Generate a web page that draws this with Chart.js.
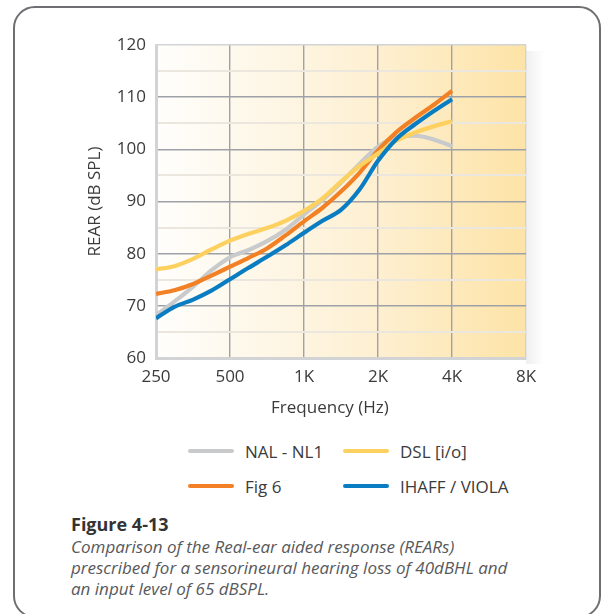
<!DOCTYPE html>
<html>
<head>
<meta charset="utf-8">
<script src="https://cdn.jsdelivr.net/npm/chart.js@4"></script>
<style>
  body { margin: 0; background: #fff; font-family: "Open Sans", sans-serif; }
  #panel {
    position: absolute; left: 13px; top: 6px; width: 584px; height: 608px;
    border: 2.5px solid #6e6f72; border-radius: 22px; background: #fff;
  }
  #chart { position: absolute; left: 0; top: 0; }
  .legend-item { position: absolute; display: flex; align-items: center; font-size: 17px; color: #3b3b3b; white-space: nowrap; }
  .legend-item i { display: inline-block; width: 46px; height: 4px; border-radius: 2px; margin-right: 11px; }
  #caption { position: absolute; left: 71px; top: 512px; color: #58595b; }
  #caption b { display: block; font-size: 18px; color: #333; margin-bottom: 0; }
  #caption p { margin: 0; font-style: italic; font-size: 17px; line-height: 21px; }
</style>
</head>
<body>
<div id="panel"></div>
<canvas id="chart" width="605" height="430"></canvas>
<div id="legend"></div>
<div id="caption">
  <b>Figure 4-13</b>
  <p>Comparison of the Real-ear aided response (REARs)<br>prescribed for a sensorineural hearing loss of 40dBHL and<br>an input level of 65 dBSPL.</p>
</div>
<script>
// quarter-octave points from 250 Hz to 4 kHz
const freqs = [250, 297, 354, 420, 500, 595, 707, 841, 1000, 1189, 1414, 1682, 2000, 2378, 2828, 3364, 4000];
const nalNl1 = [68.2, 70.8, 73.7, 76.8, 79.3, 80.7, 82.4, 84.6, 87.5, 90.3, 93.6, 97.2, 100.5, 102.3, 102.6, 101.9, 100.6];
const dslIo = [77.0, 77.6, 79.0, 80.8, 82.5, 83.8, 84.9, 86.3, 88.2, 90.6, 93.8, 96.8, 99.2, 101.7, 103.2, 104.4, 105.4];
const fig6 = [72.3, 73.0, 74.2, 75.8, 77.5, 79.2, 81.0, 83.5, 86.2, 88.8, 91.9, 95.5, 99.8, 103.3, 106.0, 108.5, 111.2];
const ihaff = [67.6, 69.8, 71.2, 72.9, 75.1, 77.3, 79.4, 81.6, 84.0, 86.3, 88.4, 92.3, 97.8, 102.0, 104.8, 107.3, 109.6];

const freqTicks = [250, 500, 1000, 2000, 4000, 8000];
const yMin = 60, yMax = 120;

const series = [
  { label: 'NAL - NL1', values: nalNl1, color: '#c9cacc', order: 4 },
  { label: 'DSL [i/o]', values: dslIo, color: '#fdd15f', order: 2 },
  { label: 'Fig 6', values: fig6, color: '#f28024', order: 3 },
  { label: 'IHAFF / VIOLA', values: ihaff, color: '#0a7dc2', order: 1 }
];

const gridMajor = '#9ea2a8';
const gridMinor = '#ebe7df';
const frameColor = '#d2d3d5';
const textColor = '#3b3b3b';
const axisFont = { family: 'Open Sans', size: 17 };

const plotBg = {
  id: 'plotBg',
  beforeDraw(chart) {
    const { ctx, chartArea: a } = chart;
    ctx.save();
    // faint shadow to the right of the plot
    const sh = ctx.createLinearGradient(a.right, 0, a.right + 18, 0);
    sh.addColorStop(0, 'rgba(120,125,135,0.12)');
    sh.addColorStop(1, 'rgba(120,125,135,0)');
    ctx.fillStyle = sh;
    ctx.fillRect(a.right, a.top + 6, 18, a.bottom - a.top);
    const g = ctx.createLinearGradient(a.left, 0, a.right, 0);
    g.addColorStop(0, '#fffefc');
    g.addColorStop(0.3, '#fef7e7');
    g.addColorStop(0.6, '#fdefd1');
    g.addColorStop(1, '#fde3a6');
    ctx.fillStyle = g;
    ctx.fillRect(a.left, a.top, a.right - a.left, a.bottom - a.top);
    ctx.restore();
  },
  afterDraw(chart) {
    // x axis title sits a little left of centre in the printed figure
    const { ctx, chartArea: a } = chart;
    ctx.save();
    ctx.fillStyle = textColor;
    ctx.font = '17px "Open Sans"';
    ctx.textAlign = 'center';
    ctx.textBaseline = 'middle';
    ctx.fillText('Frequency (Hz)', a.left + (a.right - a.left) * 0.47, 408);
    ctx.restore();
  }
};

const chart = new Chart(document.getElementById('chart'), {
  type: 'line',
  data: {
    datasets: series.map(s => ({
      label: s.label,
      data: freqs.map((f, i) => ({ x: f, y: s.values[i] })),
      borderColor: s.color,
      backgroundColor: s.color,
      borderWidth: 4.2,
      pointRadius: 0,
      cubicInterpolationMode: 'monotone',
      order: s.order
    }))
  },
  options: {
    responsive: false,
    animation: false,
    layout: { padding: { left: 80, right: 79, top: 45, bottom: 0 } },
    plugins: { legend: { display: false }, tooltip: { enabled: false } },
    scales: {
      x: {
        type: 'logarithmic',
        min: 250,
        max: 8000,
        afterBuildTicks: scale => { scale.ticks = freqTicks.map(v => ({ value: v })); },
        afterFit: scale => { scale.height = 72; },
        ticks: {
          color: textColor,
          font: axisFont,
          padding: 9,
          maxRotation: 0,
          autoSkip: false,
          callback: v => v >= 1000 ? (v / 1000) + 'K' : String(v)
        },
        grid: {
          drawTicks: false,
          color: ctx => ctx.tick && ctx.tick.value === 8000 ? frameColor : gridMajor,
          lineWidth: 1.4
        },
        border: { color: frameColor, width: 3 },
        title: { display: false, text: 'Frequency (Hz)' }
      },
      y: {
        min: yMin,
        max: yMax,
        afterFit: scale => { scale.width = 76; },
        ticks: {
          stepSize: 5,
          color: textColor,
          font: axisFont,
          padding: 10,
          callback: v => v % 10 === 0 ? String(v) : ''
        },
        grid: {
          drawTicks: false,
          color: ctx => {
            const v = ctx.tick ? ctx.tick.value : 0;
            if (v === yMax) return frameColor;
            return v % 10 === 0 ? gridMajor : gridMinor;
          },
          lineWidth: ctx => (ctx.tick && ctx.tick.value % 10 === 0) ? 1.4 : 2
        },
        border: { color: frameColor, width: 3 },
        title: {
          display: true,
          text: 'REAR (dB SPL)',
          color: textColor,
          font: axisFont,
          padding: { top: 5 }
        }
      }
    }
  },
  plugins: [plotBg]
});

// legend laid out in two columns, like the printed figure
const legendCols = [188, 343];
const legendRows = [451, 486];
const legendOrder = ['NAL - NL1', 'DSL [i/o]', 'Fig 6', 'IHAFF / VIOLA'];
const legendEl = document.getElementById('legend');
legendOrder.forEach((name, i) => {
  const s = series.find(d => d.label === name);
  const item = document.createElement('div');
  item.className = 'legend-item';
  item.style.left = legendCols[i % 2] + 'px';
  item.style.top = (legendRows[Math.floor(i / 2)] - 12) + 'px';
  item.style.height = '24px';
  item.innerHTML = '<i style="background:' + s.color + '"></i>' + s.label;
  legendEl.appendChild(item);
});
</script>
</body>
</html>
